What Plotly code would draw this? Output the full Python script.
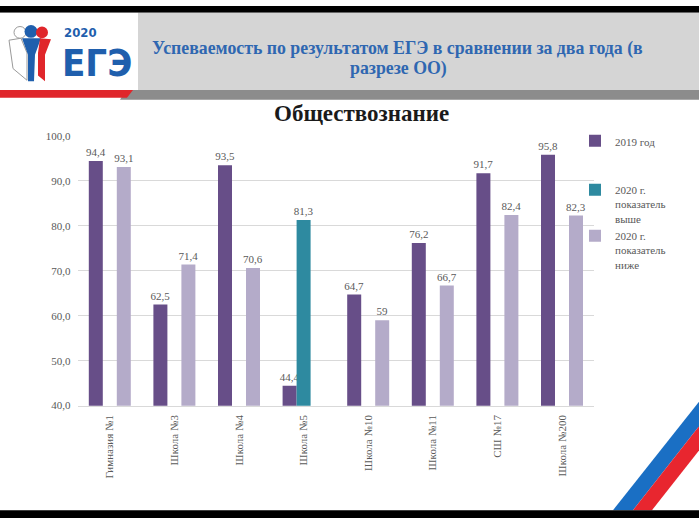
import plotly.graph_objects as go

W, H = 699, 524

# данные
schools = ["Гимназия №1", "Школа №3", "Школа №4", "Школа №5",
           "Школа №10", "Школа №11", "СШ №17", "Школа №200"]
y2019 = [94.4, 62.5, 93.5, 44.4, 64.7, 76.2, 91.7, 95.8]
y2020_up = [None, None, None, 81.3, None, None, None, None]
y2020_down = [93.1, 71.4, 70.6, None, 59, 66.7, 82.4, 82.3]

C_2019 = "#674E88"
C_UP = "#2E8AA0"
C_DOWN = "#B4ABC9"
TXT = "#595959"
SERIF = "Liberation Serif"
NARROW = "DejaVu Sans Condensed, Liberation Sans Narrow, DejaVu Sans"


def fmt(v):
    return "" if v is None else f"{v:g}".replace(".", ",")


def px(x, y):
    return x / W, 1 - y / H


def poly(points):
    parts = []
    for i, (x, y) in enumerate(points):
        fx, fy = px(x, y)
        parts.append(("M" if i == 0 else "L") + f"{fx:.5f},{fy:.5f}")
    return " ".join(parts) + " Z"


def rect(x0, y0, x1, y1, color, line=None):
    fx0, fy0 = px(x0, y0)
    fx1, fy1 = px(x1, y1)
    return dict(type="rect", xref="paper", yref="paper", x0=fx0, y0=fy0, x1=fx1, y1=fy1,
                fillcolor=color, line=dict(width=0) if line is None else line, layer="below")


def path(points, color, line=None):
    return dict(type="path", xref="paper", yref="paper", path=poly(points),
                fillcolor=color, line=dict(width=0) if line is None else line, layer="below")


def circle(cx, cy, r, color, line=None):
    fx0, fy0 = px(cx - r, cy + r)
    fx1, fy1 = px(cx + r, cy - r)
    return dict(type="circle", xref="paper", yref="paper", x0=fx0, y0=fy0, x1=fx1, y1=fy1,
                fillcolor=color, line=dict(width=0) if line is None else line, layer="below")


fig = go.Figure()
fig.add_trace(go.Bar(name="2019 год", x=schools, y=y2019, marker_color=C_2019,
                     text=[fmt(v) for v in y2019], legendgroup="a"))
fig.add_trace(go.Bar(name="2020 г.<br>показатель<br>выше", x=schools, y=y2020_up, marker_color=C_UP,
                     text=[fmt(v) for v in y2020_up], legendgroup="b"))
fig.add_trace(go.Bar(name="2020 г.<br>показатель<br>ниже", x=schools, y=y2020_down, marker_color=C_DOWN,
                     text=[fmt(v) for v in y2020_down], legendgroup="b"))
fig.update_traces(textposition="outside", constraintext="none", cliponaxis=False,
                  textfont=dict(family=SERIF, size=11, color=TXT), marker_line_width=0)

shapes = [
    # шапка
    rect(0, 0, W, 7, "black"),
    rect(0, 7, 138, 86, "white"),
    rect(138, 7, W, 86, "#D5D5D5"),
    path([(126, 86), (W, 86), (W, 96), (120, 96)], "#8C8C8C"),
    path([(0, 86), (133, 86), (127, 94), (0, 94)], "#E0262B"),
    # логотип
    path([(9, 35), (21, 33), (27, 48), (27, 76), (13, 64)], "white", dict(color="#9A9A9A", width=1)),
    path([(22, 33), (41, 33), (35, 50), (34, 77), (28, 77), (28, 50)], "#1F5FAD"),
    path([(40, 33), (51, 34), (45, 50), (45, 77), (38, 71), (38, 48)], "#E0262B"),
    circle(20, 27, 6, "white", dict(color="#9A9A9A", width=1)),
    circle(31, 26, 6.5, "#1F5FAD"),
    circle(42, 27, 6, "#E0262B"),
    # лента
    path([(613, 516), (633, 516), (W, 430), (W, 405)], "#1A6FC4"),
    path([(633, 516), (652, 516), (W, 455), (W, 430)], "#E8262F"),
    rect(0, 516, W, H, "black"),
]

head_font = dict(family=SERIF, size=17.8, color="#2F67B1")
annotations = [
    dict(text="<b>2020</b>", x=px(62, 0)[0], y=px(0, 27)[1], xanchor="left", yanchor="middle",
         font=dict(family=NARROW, size=13, color="#1F5FAD")),
    dict(text="<b>ЕГЭ</b>", x=px(60, 0)[0], y=px(0, 58)[1], xanchor="left", yanchor="middle",
         font=dict(family=NARROW, size=38, color="#1F5FAD")),
    dict(text="<b>Успеваемость по результатом ЕГЭ в сравнении за два года (в</b>",
         x=px(397, 0)[0], y=px(0, 44)[1], xanchor="center", yanchor="middle", font=head_font),
    dict(text="<b>разрезе ОО)</b>",
         x=px(398, 0)[0], y=px(0, 64)[1], xanchor="center", yanchor="middle", font=head_font),
    dict(text="<b>Обществознание</b>", x=px(361, 0)[0], y=px(0, 110)[1], xanchor="center",
         yanchor="middle", font=dict(family=SERIF, size=23, color="#1A1A1A")),
]
for a in annotations:
    a.update(xref="paper", yref="paper", showarrow=False)

fig.update_layout(
    width=W, height=H,
    margin=dict(l=0, r=0, t=0, b=0),
    paper_bgcolor="white", plot_bgcolor="white",
    separators=", ",
    barmode="group", bargap=0.35, bargroupgap=0,
    font=dict(family=SERIF, size=11, color=TXT),
    shapes=shapes,
    annotations=annotations,
    legend=dict(x=px(575, 0)[0], y=px(0, 124)[1], xanchor="left", yanchor="top",
                traceorder="grouped", tracegroupgap=30, valign="top",
                font=dict(family=SERIF, size=11, color=TXT), bgcolor="rgba(0,0,0,0)",
                itemwidth=30),
    xaxis=dict(domain=[px(77.5, 0)[0], px(594.3, 0)[0]], tickangle=-90,
               showline=True, linecolor="#D9D9D9", ticks="", ticklabelstandoff=4,
               tickfont=dict(family=SERIF, size=11, color=TXT)),
    yaxis=dict(domain=[px(0, 409)[1], px(0, 133)[1]], range=[40, 100], dtick=10,
               tickformat=".1f", showgrid=True, gridcolor="#D9D9D9", zeroline=False,
               ticklabelstandoff=6, tickfont=dict(family=SERIF, size=11, color=TXT)),
)

# убрать отступ body, чтобы рисунок занимал всё окно
fig.write_html("out.html", config={"displayModeBar": False},
               post_script="document.body.style.margin='0';")
